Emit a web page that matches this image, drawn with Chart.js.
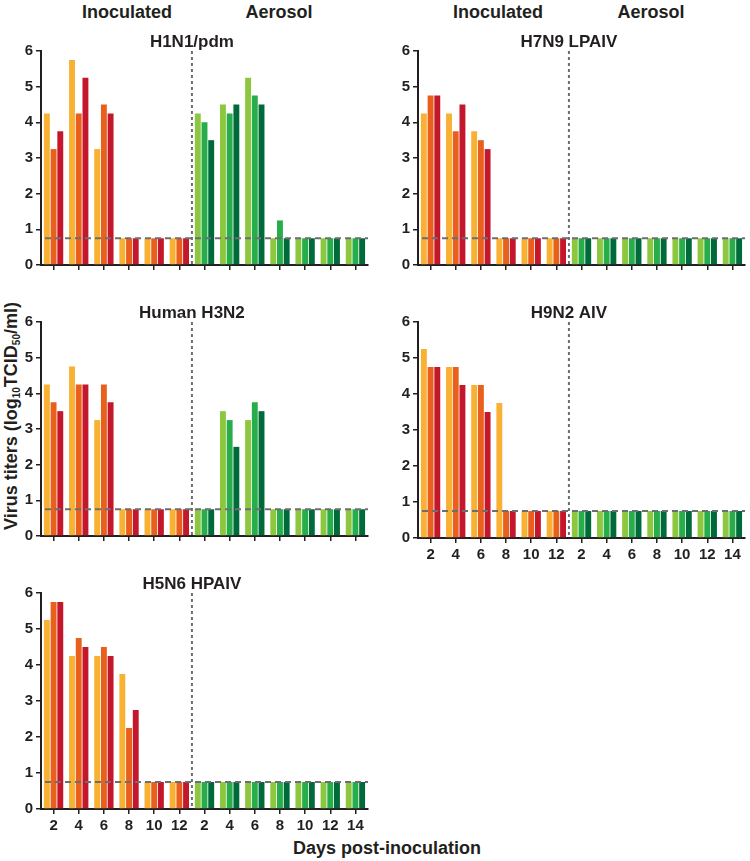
<!DOCTYPE html>
<html>
<head>
<meta charset="utf-8">
<script src="https://cdn.jsdelivr.net/npm/chart.js@4.4.1/dist/chart.umd.min.js"></script>
<style>
  body { margin: 0; background: #fff; width: 750px; height: 861px; position: relative; overflow: hidden;
         font-family: "Liberation Sans", Arial, sans-serif; color: #231f20; }
  canvas { position: absolute; }
  .rotulo { position: absolute; font-weight: bold; font-size: 18px; white-space: nowrap;
            transform: translate(-50%, -50%); }
  .titulo-y { transform: translate(-50%, -50%) rotate(-90deg); }
  .titulo-y sub { font-size: 10px; vertical-align: -3px; }
</style>
</head>
<body>
<div class="rotulo" style="left:127px;top:12px">Inoculated</div>
<div class="rotulo" style="left:279px;top:12px">Aerosol</div>
<div class="rotulo" style="left:498px;top:12px">Inoculated</div>
<div class="rotulo" style="left:651px;top:12px">Aerosol</div>
<div class="rotulo titulo-y" style="left:11px;top:416px">Virus titers (log<sub>10</sub>TCID<sub>50</sub>/ml)</div>
<div class="rotulo" style="left:387px;top:848px">Days post-inoculation</div>

<canvas id="h1n1" width="373" height="248" style="left:0px;top:29px"></canvas>
<canvas id="h7n9" width="373" height="248" style="left:377px;top:29px"></canvas>
<canvas id="h3n2" width="373" height="248" style="left:0px;top:300px"></canvas>
<canvas id="h9n2" width="373" height="266" style="left:377px;top:300px"></canvas>
<canvas id="h5n6" width="373" height="266" style="left:0px;top:571px"></canvas>

<script>
// Dias: 6 inoculados + 7 aerossol
const dias = ['2', '4', '6', '8', '10', '12', '2', '4', '6', '8', '10', '12', '14'];
const limiteDeteccao = 0.75;

// Títulos virais (log10 TCID50/ml) por animal
const h1n1_1 = [4.25, 5.75, 3.25, 0.75, 0.75, 0.75, 4.25, 4.5, 5.25, 0.75, 0.75, 0.75, 0.75];
const h1n1_2 = [3.25, 4.25, 4.5, 0.75, 0.75, 0.75, 4.0, 4.25, 4.75, 1.25, 0.75, 0.75, 0.75];
const h1n1_3 = [3.75, 5.25, 4.25, 0.75, 0.75, 0.75, 3.5, 4.5, 4.5, 0.75, 0.75, 0.75, 0.75];

const h7n9_1 = [4.25, 4.25, 3.75, 0.75, 0.75, 0.75, 0.75, 0.75, 0.75, 0.75, 0.75, 0.75, 0.75];
const h7n9_2 = [4.75, 3.75, 3.5, 0.75, 0.75, 0.75, 0.75, 0.75, 0.75, 0.75, 0.75, 0.75, 0.75];
const h7n9_3 = [4.75, 4.5, 3.25, 0.75, 0.75, 0.75, 0.75, 0.75, 0.75, 0.75, 0.75, 0.75, 0.75];

const h3n2_1 = [4.25, 4.75, 3.25, 0.75, 0.75, 0.75, 0.75, 3.5, 3.25, 0.75, 0.75, 0.75, 0.75];
const h3n2_2 = [3.75, 4.25, 4.25, 0.75, 0.75, 0.75, 0.75, 3.25, 3.75, 0.75, 0.75, 0.75, 0.75];
const h3n2_3 = [3.5, 4.25, 3.75, 0.75, 0.75, 0.75, 0.75, 2.5, 3.5, 0.75, 0.75, 0.75, 0.75];

const h9n2_1 = [5.25, 4.75, 4.25, 3.75, 0.75, 0.75, 0.75, 0.75, 0.75, 0.75, 0.75, 0.75, 0.75];
const h9n2_2 = [4.75, 4.75, 4.25, 0.75, 0.75, 0.75, 0.75, 0.75, 0.75, 0.75, 0.75, 0.75, 0.75];
const h9n2_3 = [4.75, 4.25, 3.5, 0.75, 0.75, 0.75, 0.75, 0.75, 0.75, 0.75, 0.75, 0.75, 0.75];

const h5n6_1 = [5.25, 4.25, 4.25, 3.75, 0.75, 0.75, 0.75, 0.75, 0.75, 0.75, 0.75, 0.75, 0.75];
const h5n6_2 = [5.75, 4.75, 4.5, 2.25, 0.75, 0.75, 0.75, 0.75, 0.75, 0.75, 0.75, 0.75, 0.75];
const h5n6_3 = [5.75, 4.5, 4.25, 2.75, 0.75, 0.75, 0.75, 0.75, 0.75, 0.75, 0.75, 0.75, 0.75];

// Cores: inoculados (amarelo/laranja/vermelho) e aerossol (verdes)
const coresInoculados = ['#f8b133', '#e8601c', '#c5172c'];
const coresAerossol = ['#8dc63f', '#27ad4a', '#006b3a'];

const fonte = '"Liberation Sans", Arial, sans-serif';
Chart.defaults.font.family = fonte;
Chart.defaults.color = '#231f20';

// Linha do limite de detecção, divisória e título do painel
const decoracaoPainel = {
  id: 'decoracaoPainel',
  afterDatasetsDraw(chart, args, opts) {
    const { ctx, chartArea: a, scales: { x, y } } = chart;
    const xDiv = (x.getPixelForValue(5) + x.getPixelForValue(6)) / 2;
    const yLim = y.getPixelForValue(limiteDeteccao);
    ctx.save();
    ctx.strokeStyle = '#6d6e71';
    ctx.lineWidth = 2;
    ctx.setLineDash([6, 4]);
    ctx.beginPath();
    ctx.moveTo(a.left + 4, yLim);
    ctx.lineTo(a.right, yLim);
    ctx.stroke();
    ctx.setLineDash([3, 3]);
    ctx.beginPath();
    ctx.moveTo(xDiv, a.top);
    ctx.lineTo(xDiv, a.bottom);
    ctx.stroke();
    ctx.setLineDash([]);
    ctx.fillStyle = '#231f20';
    ctx.font = 'bold 17px ' + fonte;
    ctx.textAlign = 'center';
    ctx.textBaseline = 'middle';
    ctx.fillText(opts.titulo, xDiv, a.top - 9);
    ctx.restore();
  }
};

function corPorDia(i) {
  return dias.map((d, j) => (j < 6 ? coresInoculados[i] : coresAerossol[i]));
}

function criarPainel(canvasId, titulo, series, comRotulos) {
  const canvas = document.getElementById(canvasId);
  const dados = {
    labels: dias,
    datasets: series.map((valores, i) => ({
      data: valores,
      backgroundColor: corPorDia(i),
      borderWidth: 0,
      categoryPercentage: 0.8,
      barPercentage: 0.88
    }))
  };
  return new Chart(canvas.getContext('2d'), {
    type: 'bar',
    data: dados,
    plugins: [decoracaoPainel],
    options: {
      responsive: false,
      animation: false,
      layout: { padding: { left: 0, right: 5, top: 22, bottom: 0 } },
      plugins: {
        legend: { display: false },
        tooltip: { enabled: false },
        decoracaoPainel: { titulo: titulo }
      },
      scales: {
        x: {
          afterFit(scale) { scale.height = comRotulos ? 28 : 10; },
          border: { color: '#231f20', width: 2 },
          grid: { offset: false, drawOnChartArea: false, drawTicks: true, tickLength: 5, color: '#231f20', lineWidth: 1.5 },
          ticks: { display: comRotulos, autoSkip: false, maxRotation: 0, padding: 3, font: { size: 15, weight: 'bold' }, color: '#231f20' }
        },
        y: {
          min: 0,
          max: 6,
          afterFit(scale) { scale.width = 41; },
          border: { color: '#231f20', width: 2 },
          grid: { drawOnChartArea: false, drawTicks: true, tickLength: 5, color: '#231f20', lineWidth: 1.5 },
          ticks: { stepSize: 1, padding: 3, font: { size: 15, weight: 'bold' }, color: '#231f20' }
        }
      }
    }
  });
}

criarPainel('h1n1', 'H1N1/pdm', [h1n1_1, h1n1_2, h1n1_3], false);
criarPainel('h7n9', 'H7N9 LPAIV', [h7n9_1, h7n9_2, h7n9_3], false);
criarPainel('h3n2', 'Human H3N2', [h3n2_1, h3n2_2, h3n2_3], false);
criarPainel('h9n2', 'H9N2 AIV', [h9n2_1, h9n2_2, h9n2_3], true);
criarPainel('h5n6', 'H5N6 HPAIV', [h5n6_1, h5n6_2, h5n6_3], true);
</script>
</body>
</html>
